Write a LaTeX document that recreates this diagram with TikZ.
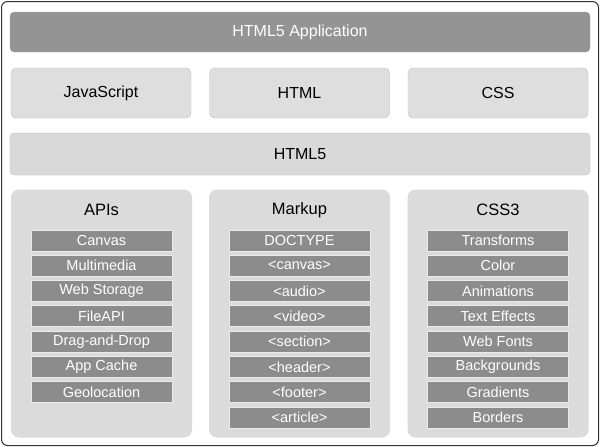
\documentclass[tikz,border=0pt]{standalone}
\usepackage{fontspec}
\setmainfont{Liberation Sans}
\begin{document}
\begin{tikzpicture}[x=1pt,y=-1pt,
  dark/.style={fill=black!42,draw=black!30,rounded corners=4pt,text=white,font=\fontsize{16}{18}\selectfont},
  light/.style={fill=black!13,draw=black!25,rounded corners=5pt,text=black,font=\fontsize{16}{18}\selectfont},
  col/.style={fill=black!14,draw=none,rounded corners=8pt},
  item/.style={fill=black!45,draw=black!8,line width=1pt,text=white,minimum width=141pt,minimum height=21pt,inner sep=0pt,font=\fontsize{14.5}{16}\selectfont},
  head/.style={font=\fontsize{16.5}{18}\selectfont}]
\useasboundingbox (0,0) rectangle (600,447);
\fill[white] (0,0) rectangle (600,447);
\draw[black!80,line width=1pt,rounded corners=6pt] (1.5,1.5) rectangle (598.5,445.5);
\node[dark,minimum width=580pt,minimum height=40pt,inner sep=0pt] (app) at (300,32) {HTML5 Application};
\node[light,minimum width=180pt,minimum height=50pt,inner sep=0pt] (js) at (101,93) {JavaScript};
\node[light,minimum width=180pt,minimum height=50pt,inner sep=0pt] (html) at (299.5,93) {HTML};
\node[light,minimum width=180pt,minimum height=50pt,inner sep=0pt] (css) at (498,93) {CSS};
\node[dark,minimum width=580pt,minimum height=42pt,inner sep=0pt,fill=black!15,draw=black!25,text=black] (h5) at (300,154) {HTML5};
\foreach \cx/\nm/\hd in {101.5/apis/APIs,299.5/markup/Markup,498/css3/CSS3}{
  \node[col,minimum width=181pt,minimum height=248pt] (\nm) at (\cx,313.5) {};
  \node[head] (\nm h) at (\cx,210) {\hd};
}
\foreach \t [count=\i] in {Canvas,Multimedia,Web Storage,FileAPI,Drag-and-Drop,App Cache,Geolocation}
  \node[item] (a\i) at (101.5,{240.5+25.3*(\i-1)}) {\t};
\foreach \t [count=\i] in {DOCTYPE,<canvas>,<audio>,<video>,<section>,<header>,<footer>,<article>}
  \node[item] (m\i) at (299.5,{240.5+25.3*(\i-1)}) {\t};
\foreach \t [count=\i] in {Transforms,Color,Animations,Text Effects,Web Fonts,Backgrounds,Gradients,Borders}
  \node[item] (c\i) at (498,{240.5+25.3*(\i-1)}) {\t};
\end{tikzpicture}
\end{document}
